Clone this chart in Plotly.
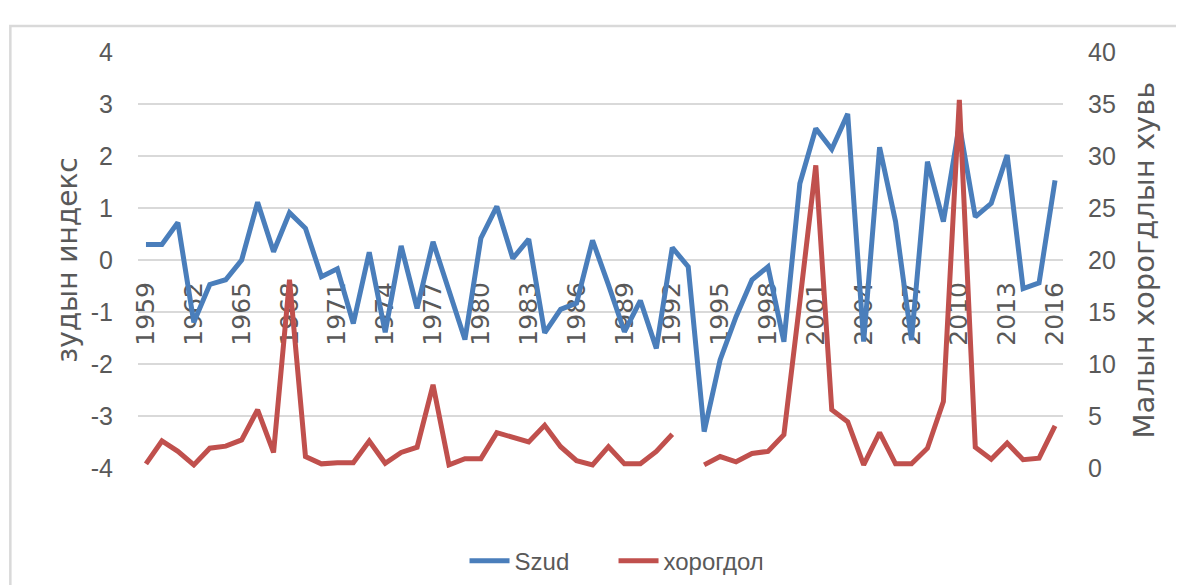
import plotly.graph_objects as go

years = list(range(1959, 2017))
szud = [0.3, 0.3, 0.72, -1.2, -0.47, -0.38, 0.0, 1.11, 0.16, 0.91,
        0.61, -0.32, -0.17, -1.22, 0.15, -1.39, 0.27, -0.93, 0.35, -0.6,
        -1.53, 0.42, 1.03, 0.03, 0.40, -1.40, -0.95, -0.83, 0.38, -0.48,
        -1.38, -0.78, -1.70, 0.24, -0.13, -3.30, -1.92, -1.09, -0.38, -0.13,
        -1.57, 1.47, 2.53, 2.13, 2.81, -1.57, 2.17, 0.74, -1.54, 1.89,
        0.74, 2.60, 0.83, 1.09, 2.02, -0.55, -0.44, 1.53]
khorogdol = [0.4, 2.6, 1.6, 0.3, 1.9, 2.1, 2.7, 5.6, 1.5, 18.1,
             1.1, 0.4, 0.5, 0.5, 2.6, 0.45, 1.5, 2.0, 8.0, 0.3,
             0.9, 0.9, 3.4, 2.95, 2.5, 4.1, 2.05, 0.7, 0.3, 2.05,
             0.4, 0.4, 1.6, 3.25, None, 0.3, 1.1, 0.6, 1.4, 1.6,
             3.2, 16.0, 29.1, 5.6, 4.45, 0.3, 3.4, 0.4, 0.4, 1.9,
             6.4, 35.4, 2.0, 0.85, 2.4, 0.8, 0.95, 4.05]

year_ticks = list(range(1959, 2017, 3))
left_ticks = [-4, -3, -2, -1, 0, 1, 2, 3, 4]
right_ticks = [0, 5, 10, 15, 20, 25, 30, 35, 40]

blue = "#4A7EBB"
red = "#C0504D"
grid = "#D9D9D9"
txt = "#595959"

fig = go.Figure()
fig.add_trace(go.Scatter(x=years, y=szud, name="Szud", mode="lines",
                         line=dict(color=blue, width=5), yaxis="y"))
fig.add_trace(go.Scatter(x=years, y=khorogdol, name="хорогдол", mode="lines",
                         line=dict(color=red, width=5), yaxis="y2",
                         connectgaps=False))

fig.update_layout(
    width=1176, height=577,
    margin=dict(l=130, r=121, t=44, b=117, autoexpand=False),
    paper_bgcolor="white", plot_bgcolor="white",
    font=dict(family="Liberation Sans", color=txt),
    showlegend=True,
    legend=dict(orientation="h", x=0.353, y=-0.224, xanchor="left", yanchor="middle",
                font=dict(family="Liberation Sans", size=24, color=txt),
                itemwidth=40, entrywidth=94, entrywidthmode="pixels",
                bgcolor="rgba(0,0,0,0)"),
    xaxis=dict(range=[1958.5, 2016.5], tickvals=year_ticks,
               ticktext=[str(y) for y in year_ticks], tickangle=-90,
               showgrid=False, zeroline=False, showline=False, ticks="",
               anchor="free", position=0.5, layer="below traces",
               ticklabelstandoff=16, automargin=False,
               tickfont=dict(family="DejaVu Sans", size=25, color=txt)),
    yaxis=dict(range=[-4, 4], tickvals=left_ticks,
               ticktext=[str(v) for v in left_ticks],
               showgrid=True, gridcolor=grid, gridwidth=1.5, zeroline=False,
               showline=False, ticks="", ticklabelstandoff=24, automargin=False,
               tickfont=dict(family="Liberation Sans", size=25, color=txt),
               title=dict(text="зудын индекс", standoff=4,
                          font=dict(family="DejaVu Sans", size=28, color=txt))),
    yaxis2=dict(range=[0, 40], tickvals=right_ticks,
                ticktext=[str(v) for v in right_ticks],
                overlaying="y", side="right", showgrid=False, zeroline=False,
                showline=False, ticks="", ticklabelstandoff=24, automargin=False,
                tickfont=dict(family="Liberation Sans", size=25, color=txt),
                title=dict(text="Малын хорогдлын хувь", standoff=18,
                           font=dict(family="DejaVu Sans", size=29, color=txt))),
    shapes=[dict(type="rect", xref="paper", yref="paper",
                 x0=-0.138, x1=1.2, y0=-0.4, y1=1.0625,
                 line=dict(color=grid, width=2.5), layer="below")],
)

fig.write_html("out.html")
